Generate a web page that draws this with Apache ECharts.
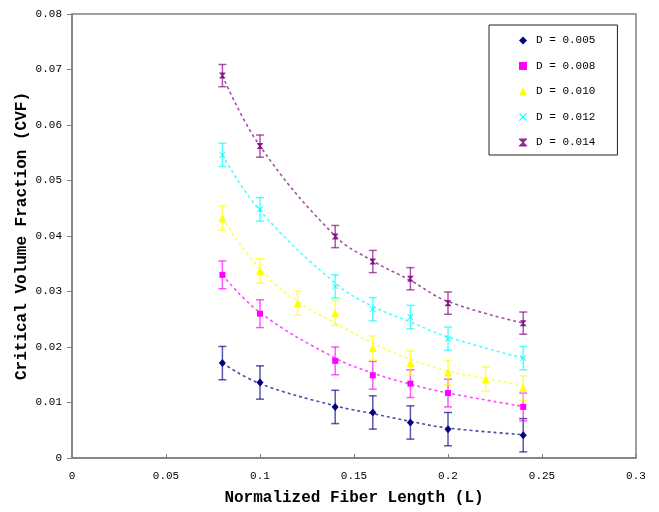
<!DOCTYPE html>
<html>
<head>
<meta charset="utf-8">
<script src="https://cdn.jsdelivr.net/npm/echarts@6/dist/echarts.min.js"></script>
<style>html,body{margin:0;padding:0;background:#fff;}#c{width:659px;height:512px;}</style>
</head>
<body>
<div id="c"></div>
<script>
// ---- data ----
const seriesNames = ['D = 0.005', 'D = 0.008', 'D = 0.010', 'D = 0.012', 'D = 0.014'];
const xStd = [0.08, 0.1, 0.14, 0.16, 0.18, 0.2, 0.24];
const xYellow = [0.08, 0.1, 0.12, 0.14, 0.16, 0.18, 0.2, 0.22, 0.24];
const d005 = [0.0171, 0.0136, 0.0092, 0.0082, 0.0064, 0.0052, 0.0041];
const d008 = [0.0330, 0.0260, 0.0175, 0.0149, 0.0134, 0.0117, 0.0092];
const d010 = [0.0432, 0.0337, 0.0279, 0.0261, 0.0198, 0.0171, 0.0154, 0.0142, 0.0126];
const d012 = [0.0546, 0.0448, 0.0309, 0.0268, 0.0254, 0.0215, 0.0180];
const d014 = [0.0689, 0.0562, 0.0399, 0.0354, 0.0323, 0.0279, 0.0243];
// trend (dashed) curves
const t005 = [0.0171, 0.0134, 0.0094, 0.0080, 0.0066, 0.0054, 0.0042];
const t008 = [0.0330, 0.0262, 0.0180, 0.0153, 0.0133, 0.0117, 0.0093];
const t010 = [0.0432, 0.0340, 0.0282, 0.0243, 0.0207, 0.0178, 0.0157, 0.0143, 0.0131];
const t012 = [0.0546, 0.0446, 0.0315, 0.0273, 0.0245, 0.0218, 0.0180];
const t014 = [0.0689, 0.0562, 0.0400, 0.0355, 0.0320, 0.0282, 0.0243];
// half-length of error bars per series
const errHalf = [0.0030, 0.0025, 0.0022, 0.0021, 0.0020];
const xTicks = [0, 0.05, 0.1, 0.15, 0.2, 0.25, 0.3];
const yTicks = [0, 0.01, 0.02, 0.03, 0.04, 0.05, 0.06, 0.07, 0.08];

const colors = ['#000080', '#FF00FF', '#FFFF00', '#00FFFF', '#800080'];
const xsList = [xStd, xStd, xYellow, xStd, xStd];
const ysList = [d005, d008, d010, d012, d014];
const tsList = [t005, t008, t010, t012, t014];
const symbols = [
  'diamond',
  'rect',
  'triangle',
  'path://M0,1L1,0L5,4L9,0L10,1L6,5L10,9L9,10L5,6L1,10L0,9L4,5Z',
  'path://M0,0L10,0L10,1.4L6,5L10,8.6L10,10L0,10L0,8.6L4,5L0,1.4Z'
];
const symbolSizes = [[7, 8], 6, 8, 6, [6, 6]];

const FONT = '"Liberation Mono", "DejaVu Sans Mono", monospace';

const series = [];
// error bars
for (let i = 0; i < 5; i++) {
  const data = xsList[i].map((x, k) => [x, ysList[i][k] - errHalf[i], ysList[i][k] + errHalf[i]]);
  series.push({
    type: 'custom',
    name: 'err' + i,
    data: data,
    z: 2,
    silent: true,
    renderItem: function (params, api) {
      const x = api.value(0);
      const lo = api.coord([x, api.value(1)]);
      const hi = api.coord([x, api.value(2)]);
      const w = 4;
      const st = { stroke: colors[i], lineWidth: 1.5, opacity: 0.65 };
      return {
        type: 'group',
        children: [
          { type: 'line', shape: { x1: lo[0], y1: lo[1], x2: hi[0], y2: hi[1] }, style: st },
          { type: 'line', shape: { x1: lo[0] - w, y1: lo[1], x2: lo[0] + w, y2: lo[1] }, style: st },
          { type: 'line', shape: { x1: hi[0] - w, y1: hi[1], x2: hi[0] + w, y2: hi[1] }, style: st }
        ]
      };
    }
  });
}
// trend lines
for (let i = 0; i < 5; i++) {
  series.push({
    type: 'line',
    name: 'trend' + i,
    data: xsList[i].map((x, k) => [x, tsList[i][k]]),
    smooth: 0.4,
    showSymbol: false,
    symbol: 'none',
    z: 3,
    silent: true,
    lineStyle: { color: colors[i], width: 1.6, type: [3, 3], opacity: 0.7 }
  });
}
// markers
for (let i = 0; i < 5; i++) {
  series.push({
    type: 'scatter',
    name: seriesNames[i],
    data: xsList[i].map((x, k) => [x, ysList[i][k]]),
    symbol: symbols[i],
    symbolSize: symbolSizes[i],
    z: 4,
    itemStyle: { color: colors[i], opacity: i === 4 ? 0.85 : 1 }
  });
}

const chart = echarts.init(document.getElementById('c'), null, { renderer: 'canvas' });
chart.setOption({
  backgroundColor: '#ffffff',
  animation: false,
  grid: {
    left: 72, right: 23, top: 14, bottom: 54,
    show: true, borderColor: '#808080', borderWidth: 1.5, backgroundColor: 'transparent'
  },
  legend: {
    data: seriesNames.map((n, i) => ({ name: n, icon: symbols[i] })),
    orient: 'vertical',
    left: 489,
    top: 25,
    itemWidth: 8,
    itemHeight: 8,
    itemGap: 14.5,
    padding: [10, 22, 7, 30],
    borderColor: '#222',
    borderWidth: 1,
    backgroundColor: '#fff',
    textStyle: { fontFamily: FONT, fontSize: 11, color: '#000', padding: [0, 0, 0, 4] },
    selectedMode: false
  },
  xAxis: {
    type: 'value',
    min: 0, max: 0.3, interval: 0.05,
    name: 'Normalized Fiber Length (L)',
    nameLocation: 'middle',
    nameGap: 32,
    nameMoveOverlap: false,
    nameTextStyle: { fontFamily: FONT, fontSize: 16, fontWeight: 'bold', color: '#000' },
    axisLine: { show: true, lineStyle: { color: '#808080', width: 1.5 } },
    axisTick: { show: true, inside: true, length: 4, lineStyle: { color: '#808080' } },
    axisLabel: {
      margin: 13, fontFamily: FONT, fontSize: 11, color: '#000',
      formatter: v => { const t = xTicks.find(a => Math.abs(a - v) < 1e-9); return t === undefined ? '' : String(t); }
    },
    splitLine: { show: false }
  },
  yAxis: {
    type: 'value',
    min: 0, max: 0.08, interval: 0.01,
    name: 'Critical Volume Fraction (CVF)',
    nameLocation: 'middle',
    nameGap: 42,
    nameMoveOverlap: false,
    nameTextStyle: { fontFamily: FONT, fontSize: 16, fontWeight: 'bold', color: '#000' },
    axisLine: { show: true, lineStyle: { color: '#808080', width: 1.5 } },
    axisTick: { show: true, inside: false, length: 5, lineStyle: { color: '#808080' } },
    axisLabel: {
      margin: 10, fontFamily: FONT, fontSize: 11, color: '#000',
      formatter: v => { const t = yTicks.find(a => Math.abs(a - v) < 1e-9); return t === undefined ? '' : String(t); }
    },
    splitLine: { show: false }
  },
  series: series
});
</script>
</body>
</html>
